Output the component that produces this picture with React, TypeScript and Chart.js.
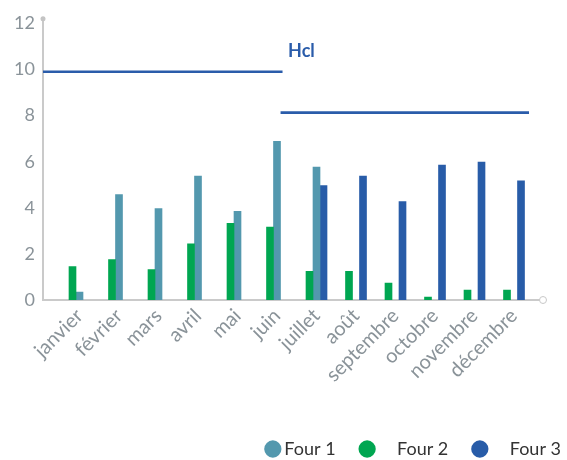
import React, { useEffect, useRef } from 'react';
import { Chart, registerables } from 'chart.js';

Chart.register(...registerables);

const months = ['janvier', 'février', 'mars', 'avril', 'mai', 'juin', 'juillet', 'août', 'septembre', 'octobre', 'novembre', 'décembre'];
const four1 = [0.34, 4.57, 3.97, 5.38, 3.85, 6.88, 5.77, null, null, null, null, null];
const four2 = [1.45, 1.75, 1.32, 2.44, 3.33, 3.16, 1.24, 1.24, 0.73, 0.13, 0.43, 0.43];
const four3 = [null, null, null, null, null, null, 4.96, 5.38, 4.27, 5.85, 5.98, 5.17];
const hclValues = [9.9, 8.13];
const hclFrom = [-0.924, 5.09];
const hclTo = [5.14, 11.38];
const yTickValues = [0, 2, 4, 6, 8, 10, 12];

const TEAL = '#5398ae';
const GREEN = '#00a651';
const BLUE = '#285ca8';
const HCL = '#2a5caa';
const AXIS = '#cacaca';
const TICK = '#8a9399';

const toPoints = (vals: (number | null)[]) => vals.map((v, i) => ({ x: i, y: v }));

const decor = {
  id: 'decor',
  afterDraw(chart: any) {
    const { ctx, chartArea, scales } = chart;
    const { left, right, top, bottom } = chartArea;
    ctx.save();
    ctx.fillStyle = '#c4c4c4';
    ctx.beginPath();
    ctx.arc(left, top, 2.5, 0, Math.PI * 2);
    ctx.fill();
    ctx.beginPath();
    ctx.arc(right, bottom, 3.5, 0, Math.PI * 2);
    ctx.fillStyle = '#ffffff';
    ctx.fill();
    ctx.strokeStyle = '#c8c8c8';
    ctx.lineWidth = 1;
    ctx.stroke();
    ctx.font = 'bold 18px Lato';
    ctx.fillStyle = HCL;
    ctx.textAlign = 'left';
    ctx.textBaseline = 'middle';
    ctx.fillText('Hcl', scales.x.getPixelForValue(5.28), scales.y.getPixelForValue(10.8));
    ctx.restore();
  },
};

export default function App() {
  const ref = useRef<HTMLCanvasElement>(null);
  useEffect(() => {
    document.body.style.margin = '0';
    Chart.defaults.font.family = 'Lato';
    const legendText = ['Four 1     ', '    Four 2     ', '    Four 3'];
    const chart = new Chart(ref.current as HTMLCanvasElement, {
      type: 'bar',
      data: {
        datasets: [
          { type: 'bar', label: 'Four 2', data: toPoints(four2), backgroundColor: GREEN, barThickness: 7 } as any,
          { type: 'bar', label: 'Four 1', data: toPoints(four1), backgroundColor: TEAL, barThickness: 7 } as any,
          { type: 'bar', label: 'Four 3', data: toPoints(four3), backgroundColor: BLUE, barThickness: 7 } as any,
          ...hclValues.map((v, k) => ({
            type: 'line',
            label: 'Hcl',
            data: [{ x: hclFrom[k], y: v }, { x: hclTo[k], y: v }],
            borderColor: HCL,
            borderWidth: 2.6,
            pointRadius: 0,
          })) as any,
        ],
      },
      options: {
        responsive: false,
        animation: false,
        layout: { padding: { top: 15, left: 0, right: 0, bottom: -8 } },
        plugins: {
          tooltip: { enabled: false },
          legend: {
            position: 'bottom',
            align: 'end',
            labels: {
              usePointStyle: true,
              pointStyle: 'circle',
              boxWidth: 5,
              boxHeight: 12.2,
              padding: 6,
              color: '#333333',
              font: { size: 18, family: 'Lato' },
              generateLabels: (ch: any) => {
                const items = Chart.defaults.plugins.legend.labels.generateLabels(ch);
                return items
                  .filter((it: any) => it.text !== 'Hcl')
                  .sort((a: any, b: any) => a.text.localeCompare(b.text))
                  .map((it: any, i: number) => ({ ...it, text: legendText[i], lineWidth: 0, strokeStyle: 'transparent' }));
              },
            },
          },
        },
        scales: {
          x: {
            type: 'linear',
            offset: false,
            min: -0.924,
            max: 11.734,
            grid: { display: false, drawTicks: false },
            border: { display: true, color: AXIS, width: 2 },
            afterFit: (s: any) => { s.height = 134; },
            ticks: {
              stepSize: 1,
              includeBounds: false,
              autoSkip: false,
              minRotation: 45,
              maxRotation: 45,
              padding: 4,
              color: TICK,
              font: { size: 20, family: 'Lato' },
              callback: (v: any) => (Number.isInteger(v) && months[v] !== undefined ? months[v] : ''),
            },
          },
          y: {
            min: 0,
            max: 12.2,
            grid: { display: false, drawTicks: false },
            border: { display: true, color: AXIS, width: 2 },
            afterBuildTicks: (s: any) => { s.ticks = yTickValues.map((v) => ({ value: v })); },
            afterFit: (s: any) => { s.width = 43; },
            ticks: {
              padding: 8,
              color: TICK,
              font: { size: 18, family: 'Lato' },
            },
          },
          y2: {
            position: 'right',
            display: true,
            grid: { display: false, drawTicks: false },
            border: { display: false },
            ticks: { display: false },
            afterFit: (s: any) => { s.width = 24; },
          },
        },
      } as any,
      plugins: [decor],
    });
    return () => chart.destroy();
  }, []);
  return (
    <div style={{ width: 567, height: 460 }}>
      <canvas ref={ref} width={567} height={460} />
    </div>
  );
}
